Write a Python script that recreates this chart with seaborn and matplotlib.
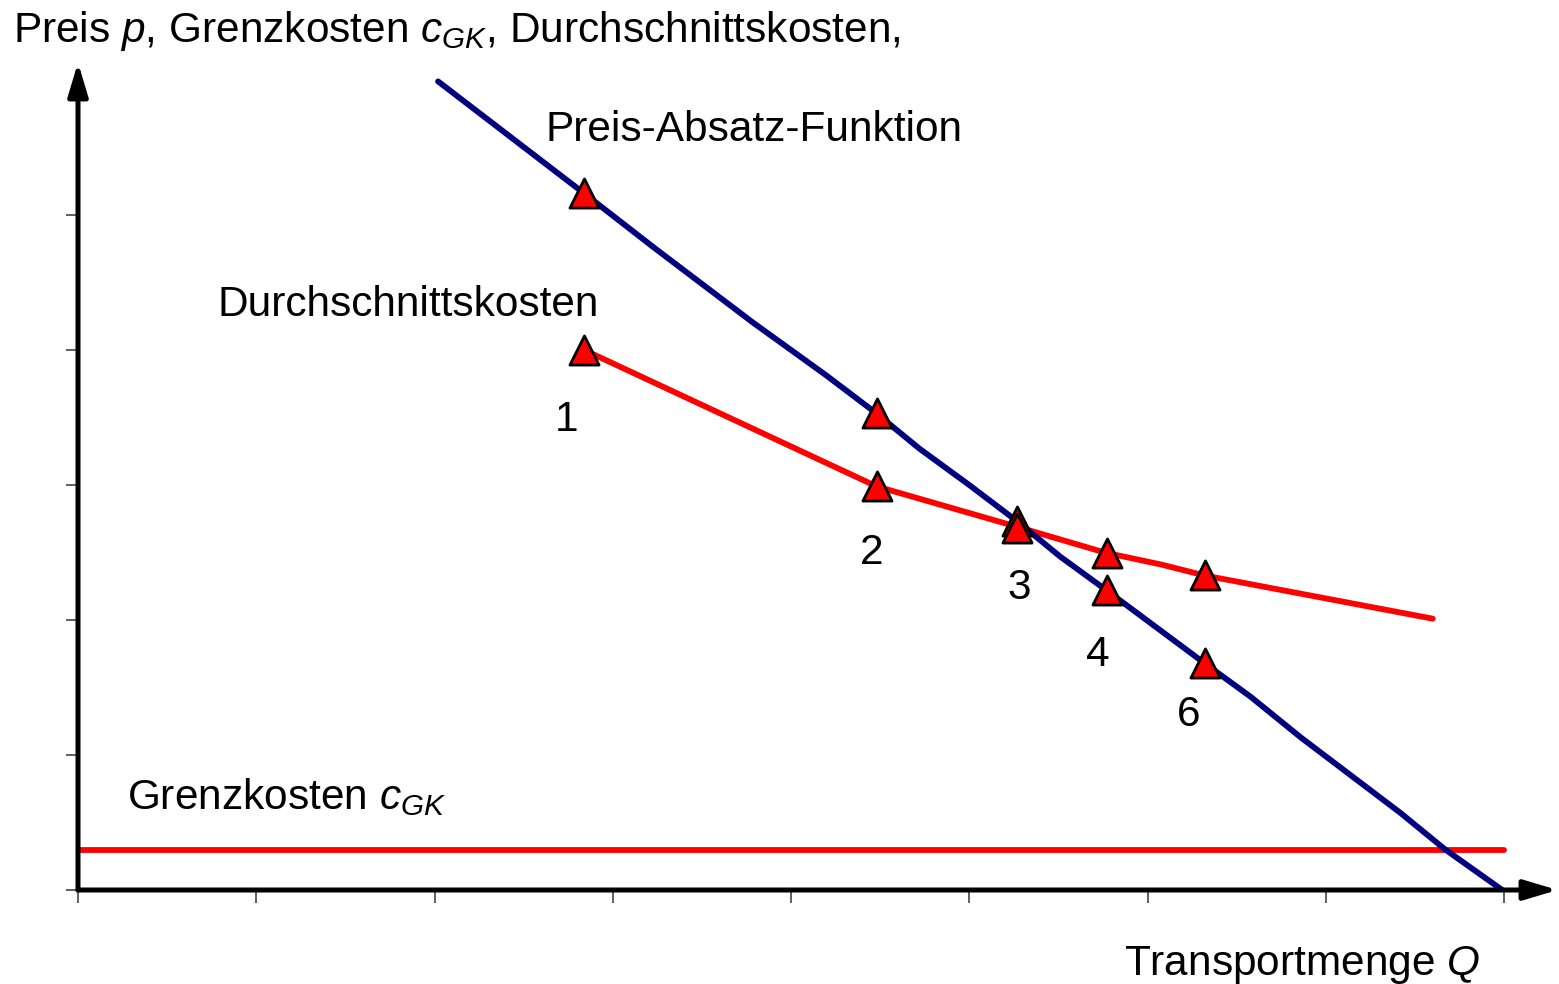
import pandas as pd
import seaborn as sns
import matplotlib.pyplot as plt

# Preis-Absatz-Funktion (Transportmenge in Tick-Einheiten)
pa_x = [2.02, 2.84, 3.23, 3.60, 3.79, 3.99, 4.20, 4.48, 4.72, 5.00, 5.27, 5.51,
        5.77, 6.32, 6.58, 6.86, 7.23, 7.42, 7.67, 7.99]
pa_y = [5.99, 5.16, 4.76, 4.39, 4.20, 4.01, 3.81, 3.53, 3.27, 3.00, 2.73, 2.47,
        2.22, 1.68, 1.43, 1.13, 0.76, 0.57, 0.30, 0.00]

# Durchschnittskosten
dk_x = [2.84, 4.48, 5.27, 5.76, 6.08, 6.32, 7.60]
dk_y = [4.00, 2.99, 2.69, 2.50, 2.41, 2.33, 2.01]

# Grenzkosten
gk_x = [0.0, 8.0]
gk_y = [0.30, 0.30]

# markierte Punkte
pts_x = [2.84, 4.48, 5.27, 5.77, 6.32]
pts_pa_y = [5.16, 3.53, 2.73, 2.22, 1.68]
pts_dk_y = [4.00, 2.99, 2.68, 2.50, 2.33]
pts_labels = ['1', '2', '3', '4', '6']
lbl_x = [2.74, 4.45, 5.28, 5.72, 6.23]
lbl_y = [3.48, 2.50, 2.24, 1.74, 1.30]

sns.set_theme(style="white")
plt.rcParams['font.family'] = ['Liberation Sans', 'DejaVu Sans']
plt.rcParams['text.color'] = 'black'
plt.rcParams['mathtext.fontset'] = 'custom'
plt.rcParams['mathtext.rm'] = 'Liberation Sans'
plt.rcParams['mathtext.it'] = 'Liberation Sans:italic'

pa = pd.DataFrame({'Q': pa_x, 'p': pa_y})
dk = pd.DataFrame({'Q': dk_x, 'p': dk_y})
gk = pd.DataFrame({'Q': gk_x, 'p': gk_y})
pts = pd.DataFrame({'Q': pts_x * 2, 'p': pts_pa_y + pts_dk_y})

fig = plt.figure(figsize=(15.59, 9.84), dpi=100)
ax = fig.add_axes([78 / 1559, 94 / 984, 1479.5 / 1559, 827.5 / 984])

sns.lineplot(data=gk, x='Q', y='p', ax=ax, color='#ff0000', lw=4.2, sort=False)
sns.lineplot(data=dk, x='Q', y='p', ax=ax, color='#ff0000', lw=4.2, sort=False)
sns.lineplot(data=pa, x='Q', y='p', ax=ax, color='#000080', lw=4.2, sort=False)
sns.scatterplot(data=pts, x='Q', y='p', ax=ax, marker='^', s=440, color='#ff0000',
                edgecolor='black', linewidth=2, zorder=5)

for t, x, y in zip(pts_labels, lbl_x, lbl_y):
    ax.text(x, y, t, fontsize=30.5, ha='center', va='center')

ax.text(2.62, 5.63, 'Preis-Absatz-Funktion', fontsize=30.5, ha='left', va='center')
ax.text(0.785, 4.33, 'Durchschnittskosten', fontsize=30.5, ha='left', va='center')
ax.text(0.275, 0.60, 'Grenzkosten $c_{GK}$', fontsize=30.5, ha='left', va='baseline')

fig.text(13 / 1559, 1 - 42 / 984, 'Preis $p$, Grenzkosten $c_{GK}$, Durchschnittskosten,',
         fontsize=30.5, ha='left', va='baseline')
fig.text(1480 / 1559, 1 - 975 / 984, 'Transportmenge $Q$', fontsize=30.5,
         ha='right', va='baseline')

ax.set_xlim(0, 8.3)
ax.set_ylim(0, 6.13)
ax.set_xticks(range(0, 9))
ax.set_yticks(range(0, 6))
ax.set_xticklabels([])
ax.set_yticklabels([])
ax.set_xlabel('')
ax.set_ylabel('')
ax.tick_params(axis='both', direction='out', length=9, width=1.2, color='#444444',
               bottom=True, left=True)
for s in ax.spines.values():
    s.set_visible(False)

arrow = dict(arrowstyle='-|>,head_length=20,head_width=6', mutation_scale=1,
             color='black', lw=3.6, shrinkA=0, shrinkB=0)
ax.annotate('', xy=(1.0, 0), xytext=(0, 0), xycoords='axes fraction',
            textcoords='axes fraction', arrowprops=arrow)
ax.annotate('', xy=(0, 1.0), xytext=(0, 0), xycoords='axes fraction',
            textcoords='axes fraction', arrowprops=arrow)

plt.savefig('out.png', dpi=100)
